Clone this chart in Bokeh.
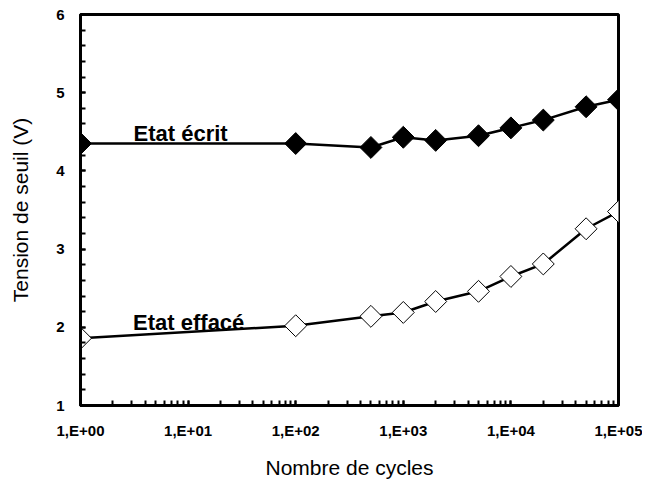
from bokeh.plotting import figure
from bokeh.models import ColumnDataSource, LogTicker, SingleIntervalTicker, Range1d
from bokeh.core.properties import value
from bokeh.embed import file_html
from bokeh.resources import INLINE
import math

# Data
cycles = [1, 100, 500, 1000, 2000, 5000, 10000, 20000, 50000, 100000]
v_ecrit = [4.35, 4.35, 4.30, 4.43, 4.39, 4.45, 4.55, 4.65, 4.82, 4.91]
v_efface = [1.86, 2.02, 2.14, 2.19, 2.33, 2.46, 2.65, 2.81, 3.26, 3.48]
x_tick_values = [1, 10, 100, 1000, 10000, 100000]
x_tick_labels = ["1,E+00", "1,E+01", "1,E+02", "1,E+03", "1,E+04", "1,E+05"]
series_labels = ["Etat écrit", "Etat effacé"]
label_x = [3.11, 3.08]
label_y = [4.474, 2.065]

FONT = "Liberation Sans"

p = figure(width=642, height=482, x_axis_type="log",
           x_range=Range1d(1, 100000), y_range=Range1d(1, 6),
           output_backend="svg", toolbar_location=None,
           min_border_left=80, min_border_right=24,
           min_border_top=14, min_border_bottom=77)

p.background_fill_color = "white"
p.border_fill_color = "white"
p.outline_line_color = "black"
p.outline_line_width = 3
p.xgrid.visible = False
p.ygrid.visible = False

src_e = ColumnDataSource(dict(x=cycles, y=v_ecrit))
src_f = ColumnDataSource(dict(x=cycles, y=v_efface))

p.line("x", "y", source=src_e, line_color="black", line_width=2.5)
p.line("x", "y", source=src_f, line_color="black", line_width=2.5)
p.scatter("x", "y", source=src_e, marker="square", angle=math.pi / 4,
          size=15.5, fill_color="black", line_color="black", line_width=1)
p.scatter("x", "y", source=src_f, marker="square", angle=math.pi / 4,
          size=15.5, fill_color="white", line_color="black", line_width=1)

p.text(x=label_x, y=label_y, text=series_labels,
       text_font=value(FONT), text_font_style="bold", text_font_size="22px",
       text_color="black", text_baseline="alphabetic", text_align="left")

# X axis
xa = p.xaxis[0]
xa.ticker = LogTicker(num_minor_ticks=10)
xa.major_label_overrides = {v: l for v, l in zip(x_tick_values, x_tick_labels)}
xa.axis_label = "Nombre de cycles"

# Y axis
ya = p.yaxis[0]
ya.ticker = SingleIntervalTicker(interval=1, num_minor_ticks=5)
ya.axis_label = "Tension de seuil (V)"

for ax in (xa, ya):
    ax.axis_line_color = "black"
    ax.axis_line_width = 3
    ax.major_tick_in = 5
    ax.major_tick_out = 0
    ax.minor_tick_in = 5
    ax.minor_tick_out = 0
    ax.major_tick_line_color = "black"
    ax.minor_tick_line_color = "black"
    ax.major_tick_line_width = 2
    ax.minor_tick_line_width = 2
    ax.major_label_text_font = FONT
    ax.major_label_text_font_style = "bold"
    ax.major_label_text_font_size = "15px"
    ax.major_label_text_color = "black"
    ax.axis_label_text_font = FONT
    ax.axis_label_text_font_style = "normal"
    ax.axis_label_text_color = "black"

xa.major_label_standoff = 16
xa.axis_label_text_font_size = "21px"
xa.axis_label_standoff = 14
ya.major_label_standoff = 16
ya.axis_label_text_font_size = "21px"
ya.axis_label_standoff = 21

open("out.html", "w").write(file_html(p, INLINE))
